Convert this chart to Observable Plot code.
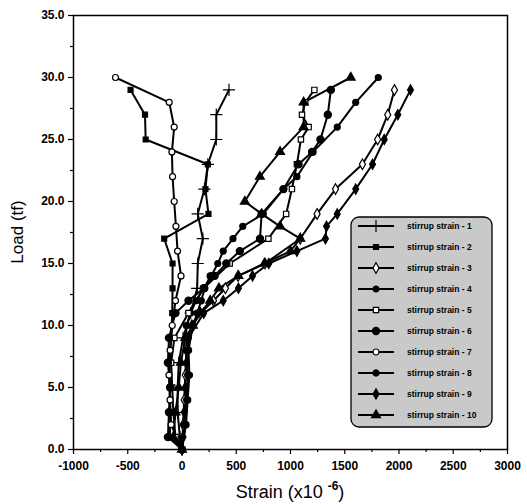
<!DOCTYPE html>
<html>
<head>
<meta charset="utf-8">
<script src="https://cdn.jsdelivr.net/npm/d3@7"></script>
<script src="https://cdn.jsdelivr.net/npm/@observablehq/plot@0.6"></script>
<style>
  html, body { margin: 0; padding: 0; background: #fff; }
</style>
</head>
<body>
<div id="chart"></div>
<script>
// Series: [load (tf), strain (x10^-6)]
const ss1 = [[0,0],[1,-20],[3,-40],[5,-40],[7,-30],[9,10],[11,80],[13,140],[15,145],[17,192],[19,145],[21,207],[23,238],[25,316],[27,316],[29,433]];
const ss2 = [[0,0],[1,-110],[3,-115],[5,-110],[7,-115],[9,-100],[11,-90],[13,-87],[15,-87],[17,-164],[19,244],[21,216],[23,238],[25,-335],[27,-341],[29,-474]];
const ss3 = [[0,0],[2,10],[4,20],[6,30],[8,40],[10,90],[11,170],[12,290],[13,400],[14,517],[15,765],[17,1090],[19,1245],[21,1415],[23,1663],[25,1803],[27,1896],[29,1958]];
const ss4 = [[0,0],[2,21],[4,43],[6,52],[8,40],[10,40],[11,80],[12,130],[13,200],[14,270],[15,330],[16,380],[17,470],[18,560],[19,749],[21,935],[22,1059],[24,1208],[26,1431],[28,1601],[30,1809]];
const ss5 = [[0,0],[1,-60],[3,-80],[5,-90],[7,-100],[9,-70],[11,60],[13,200],[15,440],[17,796],[19,960],[21,1013],[23,1059],[25,1096],[26,1167],[27,1106],[28,1136],[29,1220]];
const ss6 = [[0,0],[1,-130],[3,-120],[5,-110],[7,-130],[9,-120],[11,-60],[12,60],[13,200],[14,300],[15,409],[16,533],[17,719],[19,734],[21,935],[23,1074],[24,1199],[25,1276],[27,1344],[29,1372]];
const ss7 = [[0,0],[2,-100],[4,-110],[6,-120],[8,-110],[10,-90],[12,-60],[14,-9],[16,-41],[18,-56],[20,-72],[22,-87],[24,-93],[26,-72],[28,-118],[30,-613]];
const ss8 = [[0,0],[2,37],[4,52],[6,68],[8,60],[10,100],[11,140],[12,177],[13,210],[14,260]];
const ss9 = [[0,0],[1,10],[3,20],[5,30],[7,40],[9,60],[11,200],[12,380],[13,520],[14,650],[15,800],[16,1059],[17,1322],[18,1332],[19,1431],[21,1601],[23,1756],[25,1864],[27,1989],[29,2106]];
const ss10 = [[0,0],[1,-80],[3,-60],[5,-30],[7,-10],[9,30],[10,100],[11,170],[12,260],[13,340],[14,520],[15,760],[16,1000],[17,1090],[18,904],[19,734],[20,579],[22,718],[24,904],[26,1121],[28,1121],[30,1555]];

const seriesNames = ["stirrup strain - 1","stirrup strain - 2","stirrup strain - 3","stirrup strain - 4","stirrup strain - 5","stirrup strain - 6","stirrup strain - 7","stirrup strain - 8","stirrup strain - 9","stirrup strain - 10"];
const seriesSymbols = ["plus","square","diamond","circle","square","circle","circle","circle","diamond","triangle"];
const seriesFills = ["none","black","white","black","white","black","white","black","black","black"];
const seriesR = [4,2.8,3.2,3,3,3.6,3,3.1,3.1,3.3];

const xMajor = [-1000,-500,0,500,1000,1500,2000,2500,3000];
const xMinor = [-750,-250,250,750,1250,1750,2250,2750];
const yMajor = [0,5,10,15,20,25,30,35];
const yMinor = [2.5,7.5,12.5,17.5,22.5,27.5,32.5];

const allSeries = [ss1,ss2,ss3,ss4,ss5,ss6,ss7,ss8,ss9,ss10];
const rows = allSeries.map((s, i) => s.map(([load, strain]) => ({series: seriesNames[i], load, strain})));

const W = 527, H = 504;
const marks = [];
rows.forEach((r) => {
  marks.push(Plot.line(r, {x: "strain", y: "load", stroke: "black", strokeWidth: 2}));
});
rows.forEach((r, i) => {
  marks.push(Plot.dot(r, {x: "strain", y: "load", symbol: seriesSymbols[i], r: seriesR[i],
    fill: seriesFills[i], stroke: "black", strokeWidth: 1.2}));
});

const chart = Plot.plot({
  width: W, height: H,
  marginLeft: 73, marginRight: 20, marginTop: 15, marginBottom: 55,
  style: {fontFamily: "'Liberation Sans', Arial, sans-serif", fontSize: "12px", fontWeight: "bold", background: "white", color: "black"},
  x: {domain: [-1000, 3000]},
  y: {domain: [0, 35]},
  marks: [
    Plot.axisX({ticks: xMinor, tickSize: 3, tickFormat: () => "", label: null, strokeWidth: 1.2}),
    Plot.axisX({ticks: xMajor, tickSize: 5, tickPadding: 7, tickFormat: d => String(d), label: null, strokeWidth: 1.2}),
    Plot.axisY({ticks: yMinor, tickSize: 3, tickFormat: () => "", label: null, strokeWidth: 1.2}),
    Plot.axisY({ticks: yMajor, tickSize: 5, tickPadding: 4, tickFormat: d => d.toFixed(1), label: null, strokeWidth: 1.2}),
    ...marks,
    Plot.frame({stroke: "black", strokeWidth: 1.5})
  ]
});
document.getElementById("chart").appendChild(chart);

const svg = d3.select(chart);
// Axis titles
svg.append("text")
  .attr("transform", "translate(23,232) rotate(-90)")
  .attr("text-anchor", "middle")
  .style("font-family", "'Liberation Sans', Arial, sans-serif")
  .style("font-size", "17px").style("font-weight", "normal")
  .text("Load (tf)");
const xt = svg.append("text")
  .attr("x", 290).attr("y", 498)
  .attr("text-anchor", "middle")
  .style("font-family", "'Liberation Sans', Arial, sans-serif")
  .style("font-size", "18px").style("font-weight", "normal");
xt.append("tspan").text("Strain (x10 ");
xt.append("tspan").attr("dy", -8).style("font-size", "12px").style("font-weight", "bold").text("-6");
xt.append("tspan").attr("dy", 8).text(")");

// Legend
const lg = svg.append("g");
lg.append("rect").attr("x", 351).attr("y", 217).attr("width", 141).attr("height", 210)
  .attr("rx", 8).attr("fill", "#c9c9c9").attr("stroke", "black").attr("stroke-width", 1.3);
const typeMap = {plus: d3.symbolPlus, square: d3.symbolSquare, diamond: d3.symbolDiamond, circle: d3.symbolCircle, triangle: d3.symbolTriangle};
seriesNames.forEach((name, i) => {
  const yy = 226 + i * 21;
  lg.append("line").attr("x1", 358).attr("x2", 394).attr("y1", yy).attr("y2", yy)
    .attr("stroke", "black").attr("stroke-width", 2);
  const r = seriesR[i];
  lg.append("path")
    .attr("transform", `translate(376,${yy})`)
    .attr("d", d3.symbol(typeMap[seriesSymbols[i]], r * r * Math.PI)())
    .attr("fill", seriesFills[i]).attr("stroke", "black").attr("stroke-width", 1.2);
  lg.append("text").attr("x", 407).attr("y", yy + 3)
    .attr("text-anchor", "start")
    .style("font-family", "'Liberation Sans', Arial, sans-serif")
    .style("font-size", "8.5px").style("font-weight", "bold")
    .text(name);
});
</script>
</body>
</html>
